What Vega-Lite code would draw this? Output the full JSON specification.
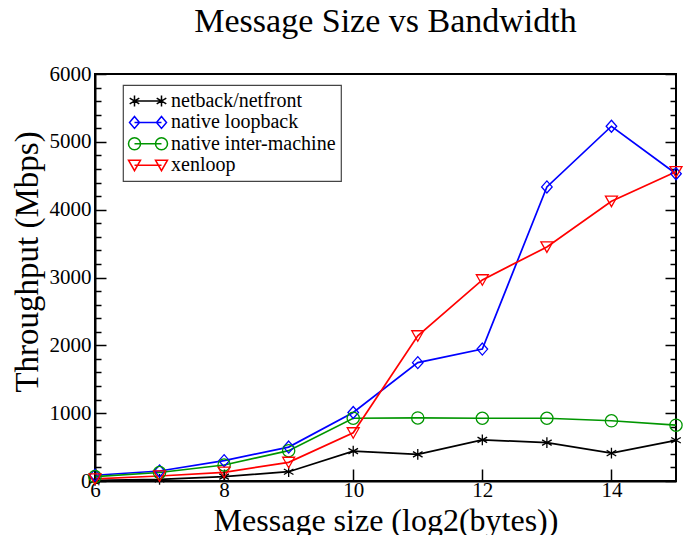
{
  "$schema": "https://vega.github.io/schema/vega-lite/v6.json",
  "width": 581,
  "height": 407,
  "autosize": {"type": "none"},
  "padding": {"left": 95, "top": 74, "right": 13, "bottom": 54},
  "background": "white",
  "title": {
    "text": "Message Size vs Bandwidth",
    "font": "Liberation Serif",
    "fontSize": 34,
    "fontWeight": "normal",
    "color": "black",
    "anchor": "middle",
    "offset": 24
  },
  "config": {
    "font": "Liberation Serif",
    "view": {"stroke": "black", "strokeWidth": 2}
  },
  "data": {
    "values": [
      {"x": 6, "y": 10, "s": "netback/netfront"},
      {"x": 7, "y": 25, "s": "netback/netfront"},
      {"x": 8, "y": 64, "s": "netback/netfront"},
      {"x": 9, "y": 137, "s": "netback/netfront"},
      {"x": 10, "y": 440, "s": "netback/netfront"},
      {"x": 11, "y": 393, "s": "netback/netfront"},
      {"x": 12, "y": 607, "s": "netback/netfront"},
      {"x": 13, "y": 565, "s": "netback/netfront"},
      {"x": 14, "y": 410, "s": "netback/netfront"},
      {"x": 15, "y": 600, "s": "netback/netfront"},
      {"x": 6, "y": 85, "s": "native loopback"},
      {"x": 7, "y": 147, "s": "native loopback"},
      {"x": 8, "y": 300, "s": "native loopback"},
      {"x": 9, "y": 500, "s": "native loopback"},
      {"x": 10, "y": 1010, "s": "native loopback"},
      {"x": 11, "y": 1745, "s": "native loopback"},
      {"x": 12, "y": 1945, "s": "native loopback"},
      {"x": 13, "y": 4335, "s": "native loopback"},
      {"x": 14, "y": 5230, "s": "native loopback"},
      {"x": 15, "y": 4530, "s": "native loopback"},
      {"x": 6, "y": 65, "s": "native inter-machine"},
      {"x": 7, "y": 125, "s": "native inter-machine"},
      {"x": 8, "y": 236, "s": "native inter-machine"},
      {"x": 9, "y": 447, "s": "native inter-machine"},
      {"x": 10, "y": 925, "s": "native inter-machine"},
      {"x": 11, "y": 930, "s": "native inter-machine"},
      {"x": 12, "y": 925, "s": "native inter-machine"},
      {"x": 13, "y": 925, "s": "native inter-machine"},
      {"x": 14, "y": 888, "s": "native inter-machine"},
      {"x": 15, "y": 823, "s": "native inter-machine"},
      {"x": 6, "y": 30, "s": "xenloop"},
      {"x": 7, "y": 74, "s": "xenloop"},
      {"x": 8, "y": 128, "s": "xenloop"},
      {"x": 9, "y": 275, "s": "xenloop"},
      {"x": 10, "y": 710, "s": "xenloop"},
      {"x": 11, "y": 2140, "s": "xenloop"},
      {"x": 12, "y": 2965, "s": "xenloop"},
      {"x": 13, "y": 3450, "s": "xenloop"},
      {"x": 14, "y": 4125, "s": "xenloop"},
      {"x": 15, "y": 4560, "s": "xenloop"}
    ]
  },
  "resolve": {"axis": {"x": "independent", "y": "independent"}},
  "layer": [
    {
      "mark": {"type": "line", "strokeWidth": 1.7},
      "encoding": {
        "x": {
          "field": "x", "type": "quantitative",
          "scale": {"domain": [6, 15], "nice": false, "zero": false},
          "axis": {
            "orient": "bottom", "values": [6, 8, 10, 12, 14], "format": "d",
            "tickSize": -12, "tickWidth": 1.5, "tickColor": "black",
            "domainColor": "black", "domainWidth": 2, "grid": false,
            "labelFontSize": 21, "labelFont": "Liberation Serif", "labelColor": "black",
            "labelPadding": 10, "labelFlush": false, "labelOverlap": false,
            "title": "Message size (log2(bytes))",
            "titleFont": "Liberation Serif", "titleFontSize": 32, "titleFontWeight": "normal",
            "titleColor": "black", "titleX": 290.5, "titleY": 49,
            "titleBaseline": "alphabetic", "titleAlign": "center", "titleAnchor": "middle"
          }
        },
        "y": {
          "field": "y", "type": "quantitative",
          "scale": {"domain": [0, 6000], "nice": false},
          "axis": {
            "orient": "left", "values": [0, 1000, 2000, 3000, 4000, 5000, 6000], "format": "d",
            "tickSize": -11, "tickWidth": 1.5, "tickColor": "black",
            "domainColor": "black", "domainWidth": 2, "grid": false,
            "labelFontSize": 21, "labelFont": "Liberation Serif", "labelColor": "black",
            "labelPadding": 15, "labelFlush": false, "labelOverlap": false,
            "title": "Throughput (Mbps)",
            "titleFont": "Liberation Serif", "titleFontSize": 33, "titleFontWeight": "normal",
            "titleColor": "black", "titleX": -58, "titleY": 187.5, "titleAngle": -90,
            "titleBaseline": "alphabetic", "titleAlign": "center", "titleAnchor": "middle"
          }
        },
        "color": {
          "field": "s", "type": "nominal",
          "scale": {
            "domain": ["netback/netfront", "native loopback", "native inter-machine", "xenloop"],
            "range": ["#000000", "#0000ff", "#009600", "#ff0000"]
          },
          "legend": {
            "orient": "none", "legendX": 28, "legendY": 11, "title": null,
            "strokeColor": "#444444", "padding": 5,
            "labelFont": "Liberation Serif", "labelFontSize": 20, "labelColor": "black", "labelLimit": 400,
            "symbolSize": 400, "symbolStrokeWidth": 1.5, "symbolOffset": 9,
            "labelOffset": 12, "rowPadding": 0.4,
            "encode": {
              "legend": {"update": {"strokeWidth": {"value": 1.2}}},
              "symbols": {
                "update": {
                  "shape": {"signal": "datum.value === 'netback/netfront' ? 'M-1.35,0L1.35,0M-1.35,-0.55L-1.35,0.55M-1.83,-0.28L-0.87,0.28M-1.83,0.28L-0.87,-0.28M1.35,-0.55L1.35,0.55M0.87,-0.28L1.83,0.28M0.87,0.28L1.83,-0.28' : datum.value === 'native loopback' ? 'M-1.35,0L1.35,0M-1.35,-0.6L-0.85,0L-1.35,0.6L-1.85,0ZM1.35,-0.6L1.85,0L1.35,0.6L0.85,0Z' : datum.value === 'native inter-machine' ? 'M-1.35,0L1.35,0M-0.75,0A0.6,0.6 0 1,1 -1.95,0A0.6,0.6 0 1,1 -0.75,0ZM1.95,0A0.6,0.6 0 1,1 0.75,0A0.6,0.6 0 1,1 1.95,0Z' : 'M-1.35,0L1.35,0M-1.95,-0.5L-0.75,-0.5L-1.35,0.55ZM0.75,-0.5L1.95,-0.5L1.35,0.55Z'"},
                  "fill": {"value": "transparent"},
                  "strokeWidth": {"value": 1.5}
                }
              }
            }
          }
        }
      }
    },
    {
      "transform": [{"filter": "datum.s === 'netback/netfront'"}],
      "mark": {"type": "point", "filled": false, "size": 144, "strokeWidth": 1.3, "opacity": 1, "color": "#000000", "shape": "M0,-0.9L0,0.9M-0.8,-0.46L0.8,0.46M-0.8,0.46L0.8,-0.46"},
      "encoding": {
        "x": {"field": "x", "type": "quantitative", "scale": {"domain": [6, 15], "nice": false, "zero": false}, "axis": null},
        "y": {
          "field": "y", "type": "quantitative",
          "scale": {"domain": [0, 6000], "nice": false},
          "axis": {
            "orient": "left",
            "values": [200, 400, 600, 800, 1200, 1400, 1600, 1800, 2200, 2400, 2600, 2800, 3200, 3400, 3600, 3800, 4200, 4400, 4600, 4800, 5200, 5400, 5600, 5800],
            "tickSize": -6, "tickWidth": 1.5, "tickColor": "black",
            "domain": false, "labels": false, "grid": false, "title": null
          }
        }
      }
    },
    {
      "transform": [{"filter": "datum.s === 'native loopback'"}],
      "mark": {"type": "point", "filled": false, "size": 144, "strokeWidth": 1.3, "opacity": 1, "color": "#0000ff", "shape": "M0,-1L0.88,0L0,1L-0.88,0Z"},
      "encoding": {
        "x": {"field": "x", "type": "quantitative", "scale": {"domain": [6, 15], "nice": false, "zero": false}, "axis": null},
        "y": {
          "field": "y", "type": "quantitative",
          "scale": {"domain": [0, 6000], "nice": false},
          "axis": {
            "orient": "right", "values": [0, 1000, 2000, 3000, 4000, 5000, 6000],
            "tickSize": -11, "tickWidth": 1.5, "tickColor": "black",
            "domain": false, "labels": false, "grid": false, "title": null
          }
        }
      }
    },
    {
      "transform": [{"filter": "datum.s === 'native inter-machine'"}],
      "mark": {"type": "point", "filled": false, "size": 150, "strokeWidth": 1.3, "opacity": 1, "color": "#009600", "shape": "circle"},
      "encoding": {
        "x": {"field": "x", "type": "quantitative", "scale": {"domain": [6, 15], "nice": false, "zero": false}, "axis": null},
        "y": {
          "field": "y", "type": "quantitative",
          "scale": {"domain": [0, 6000], "nice": false},
          "axis": {
            "orient": "right",
            "values": [200, 400, 600, 800, 1200, 1400, 1600, 1800, 2200, 2400, 2600, 2800, 3200, 3400, 3600, 3800, 4200, 4400, 4600, 4800, 5200, 5400, 5600, 5800],
            "tickSize": -6, "tickWidth": 1.5, "tickColor": "black",
            "domain": false, "labels": false, "grid": false, "title": null
          }
        }
      }
    },
    {
      "transform": [{"filter": "datum.s === 'xenloop'"}],
      "mark": {"type": "point", "filled": false, "size": 144, "strokeWidth": 1.3, "opacity": 1, "color": "#ff0000", "shape": "M-1,-0.85L1,-0.85L0,0.9Z"},
      "encoding": {
        "x": {"field": "x", "type": "quantitative", "scale": {"domain": [6, 15], "nice": false, "zero": false}, "axis": null},
        "y": {"field": "y", "type": "quantitative", "scale": {"domain": [0, 6000], "nice": false}, "axis": null}
      }
    }
  ]
}
